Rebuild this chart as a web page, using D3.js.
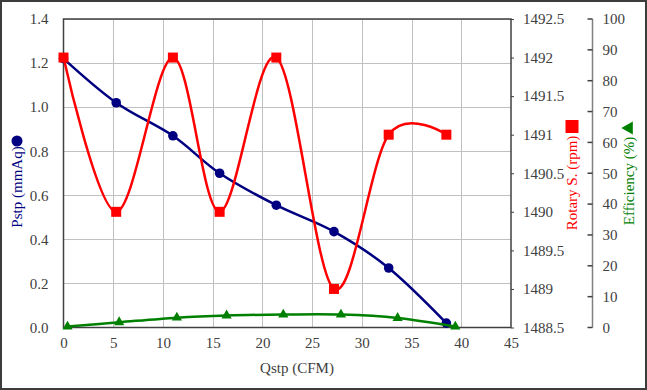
<!DOCTYPE html>
<html>
<head>
<meta charset="utf-8">
<script src="https://cdn.jsdelivr.net/npm/d3@7"></script>
<style>
  body { margin: 0; background: #fff; }
</style>
</head>
<body>
<div id="chart"></div>
<script>
'use strict';

// Pstp / rotary speed share the same flow points
var qstp      = [0.0, 5.3, 11.0, 15.7, 21.4, 27.2, 32.7, 38.5];
var pstp      = [1.22, 1.02, 0.87, 0.70, 0.555, 0.435, 0.27, 0.02];
var rotary    = [1492, 1490, 1492, 1490, 1492, 1489, 1491, 1491];

// efficiency is plotted on its own flow points
var qstpEff   = [0.4, 5.6, 11.4, 16.4, 22.1, 27.9, 33.6, 39.4];
var efficiency = [0.3, 1.7, 3.2, 3.9, 4.2, 4.2, 3.1, 0.3];

var xTicks   = [0, 5, 10, 15, 20, 25, 30, 35, 40, 45];
var pTicks   = [0, 0.2, 0.4, 0.6, 0.8, 1.0, 1.2, 1.4];
var rTicks   = [1488.5, 1489, 1489.5, 1490, 1490.5, 1491, 1491.5, 1492, 1492.5];
var eTicks   = [0, 10, 20, 30, 40, 50, 60, 70, 80, 90, 100];

var W = 647, H = 390;
var plot = { left: 63.5, right: 511, top: 19, bottom: 327.5 };
var textColor = '#404040';
var fontSize = 15;
var fontFamily = 'Liberation Serif';

var svg = d3.select('#chart').append('svg')
            .attr('width', W)
            .attr('height', H)
            .attr('font-family', fontFamily);

var x  = d3.scaleLinear().domain([0, 45]).range([plot.left, plot.right]);
var yP = d3.scaleLinear().domain([0, 1.4]).range([plot.bottom, plot.top]);
var yR = d3.scaleLinear().domain([1488.5, 1492.5]).range([plot.bottom, plot.top]);
var yE = d3.scaleLinear().domain([0, 100]).range([plot.bottom, plot.top]);

// outer frame
svg.append('rect')
   .attr('x', 1).attr('y', 1)
   .attr('width', W - 2).attr('height', H - 2)
   .attr('fill', '#fff')
   .attr('stroke', '#3c3c3c')
   .attr('stroke-width', 2);

// gridlines
var grid = svg.append('g').attr('stroke', '#c0c0c0').attr('stroke-width', 1);

grid.selectAll('line.v').data(xTicks.slice(1, -1)).enter()
    .append('line')
    .attr('x1', function (d) { return Math.round(x(d)) + 0.5; })
    .attr('x2', function (d) { return Math.round(x(d)) + 0.5; })
    .attr('y1', plot.top).attr('y2', plot.bottom);

grid.selectAll('line.h').data(pTicks.slice(1)).enter()
    .append('line')
    .attr('x1', plot.left).attr('x2', plot.right)
    .attr('y1', function (d) { return Math.round(yP(d)) + 0.5; })
    .attr('y2', function (d) { return Math.round(yP(d)) + 0.5; });

// plot border
svg.append('rect')
   .attr('x', plot.left).attr('y', plot.top)
   .attr('width', plot.right - plot.left)
   .attr('height', plot.bottom - plot.top)
   .attr('fill', 'none')
   .attr('stroke', '#404040')
   .attr('stroke-width', 1.5);

function styleAxis(g) {
    g.attr('font-family', fontFamily).attr('font-size', fontSize);
    g.select('.domain').remove();
    g.selectAll('text')
     .attr('fill', textColor)
     .attr('font-family', fontFamily);
}

// bottom axis
svg.append('g')
   .attr('transform', 'translate(0,' + plot.bottom + ')')
   .call(d3.axisBottom(x).tickValues(xTicks).tickSize(0).tickPadding(10).tickFormat(d3.format('d')))
   .call(styleAxis);

// left axis
svg.append('g')
   .attr('transform', 'translate(' + plot.left + ',0)')
   .call(d3.axisLeft(yP).tickValues(pTicks).tickSize(0).tickPadding(15).tickFormat(d3.format('.1f')))
   .call(styleAxis);

// right axis (rotary speed)
svg.append('g')
   .attr('transform', 'translate(' + plot.right + ',0)')
   .call(d3.axisRight(yR).tickValues(rTicks).tickSize(3).tickPadding(9).tickFormat(function (d) { return String(d); }))
   .call(styleAxis)
   .selectAll('line').attr('stroke', '#404040');

// second right axis (efficiency)
var effAxisX = 592.5;
var gE = svg.append('g')
   .attr('transform', 'translate(' + effAxisX + ',0)')
   .call(d3.axisRight(yE).tickValues(eTicks).tickSize(0).tickPadding(10).tickFormat(d3.format('d')))
   .call(styleAxis);

gE.append('line')
  .attr('x1', 0).attr('x2', 0)
  .attr('y1', plot.top).attr('y2', plot.bottom)
  .attr('stroke', '#808080').attr('stroke-width', 1.5);

gE.selectAll('line.tk').data(eTicks).enter()
  .append('line')
  .attr('x1', -5).attr('x2', 0)
  .attr('y1', function (d) { return yE(d); })
  .attr('y2', function (d) { return yE(d); })
  .attr('stroke', '#404040').attr('stroke-width', 1.5);

// series
var curve = d3.curveCardinal.tension(0);

var pData = qstp.map(function (q, i) { return [q, pstp[i]]; });
var rData = qstp.map(function (q, i) { return [q, rotary[i]]; });
var eData = qstpEff.map(function (q, i) { return [q, efficiency[i]]; });

function lineFor(yScale) {
    return d3.line()
             .x(function (d) { return x(d[0]); })
             .y(function (d) { return yScale(d[1]); })
             .curve(curve);
}

var navy = '#000080', red = '#ff0000', green = '#008000';

// Pstp
svg.append('path')
   .attr('d', lineFor(yP)(pData))
   .attr('fill', 'none').attr('stroke', navy).attr('stroke-width', 2.5);
svg.selectAll('circle.p').data(pData).enter()
   .append('circle')
   .attr('cx', function (d) { return x(d[0]); })
   .attr('cy', function (d) { return yP(d[1]); })
   .attr('r', 4.8)
   .attr('fill', navy);

// Rotary speed
svg.append('path')
   .attr('d', lineFor(yR)(rData))
   .attr('fill', 'none').attr('stroke', red).attr('stroke-width', 2.5);
svg.selectAll('rect.r').data(rData).enter()
   .append('rect')
   .attr('x', function (d) { return x(d[0]) - 5; })
   .attr('y', function (d) { return yR(d[1]) - 5; })
   .attr('width', 10).attr('height', 10)
   .attr('fill', red);

// Efficiency
var tri = d3.symbol().type(d3.symbolTriangle).size(45);
svg.append('path')
   .attr('d', lineFor(yE)(eData))
   .attr('fill', 'none').attr('stroke', green).attr('stroke-width', 2.5);
svg.selectAll('path.e').data(eData).enter()
   .append('path')
   .attr('d', tri)
   .attr('transform', function (d) { return 'translate(' + x(d[0]) + ',' + yE(d[1]) + ')'; })
   .attr('fill', green);

// axis titles
svg.append('text')
   .attr('x', 297)
   .attr('y', 373)
   .attr('text-anchor', 'middle')
   .attr('fill', textColor)
   .attr('font-size', fontSize)
   .text('Qstp (CFM)');

function vTitle(cx, cy, label, color) {
    svg.append('text')
       .attr('transform', 'translate(' + cx + ',' + cy + ') rotate(-90)')
       .attr('text-anchor', 'middle')
       .attr('dy', '0.33em')
       .attr('fill', color)
       .attr('font-size', fontSize)
       .text(label);
}

vTitle(17, 187, 'Pstp (mmAq)', navy);
svg.append('circle').attr('cx', 17).attr('cy', 141).attr('r', 5.5).attr('fill', navy);

vTitle(572, 183, 'Rotary S. (rpm)', red);
svg.append('rect').attr('x', 565.5).attr('y', 120).attr('width', 13).attr('height', 13).attr('fill', red);

vTitle(629, 181, 'Efficiency (%)', green);
svg.append('path')
   .attr('d', d3.symbol().type(d3.symbolTriangle).size(75))
   .attr('transform', 'translate(629,128) rotate(-90)')
   .attr('fill', green);
</script>
</body>
</html>
